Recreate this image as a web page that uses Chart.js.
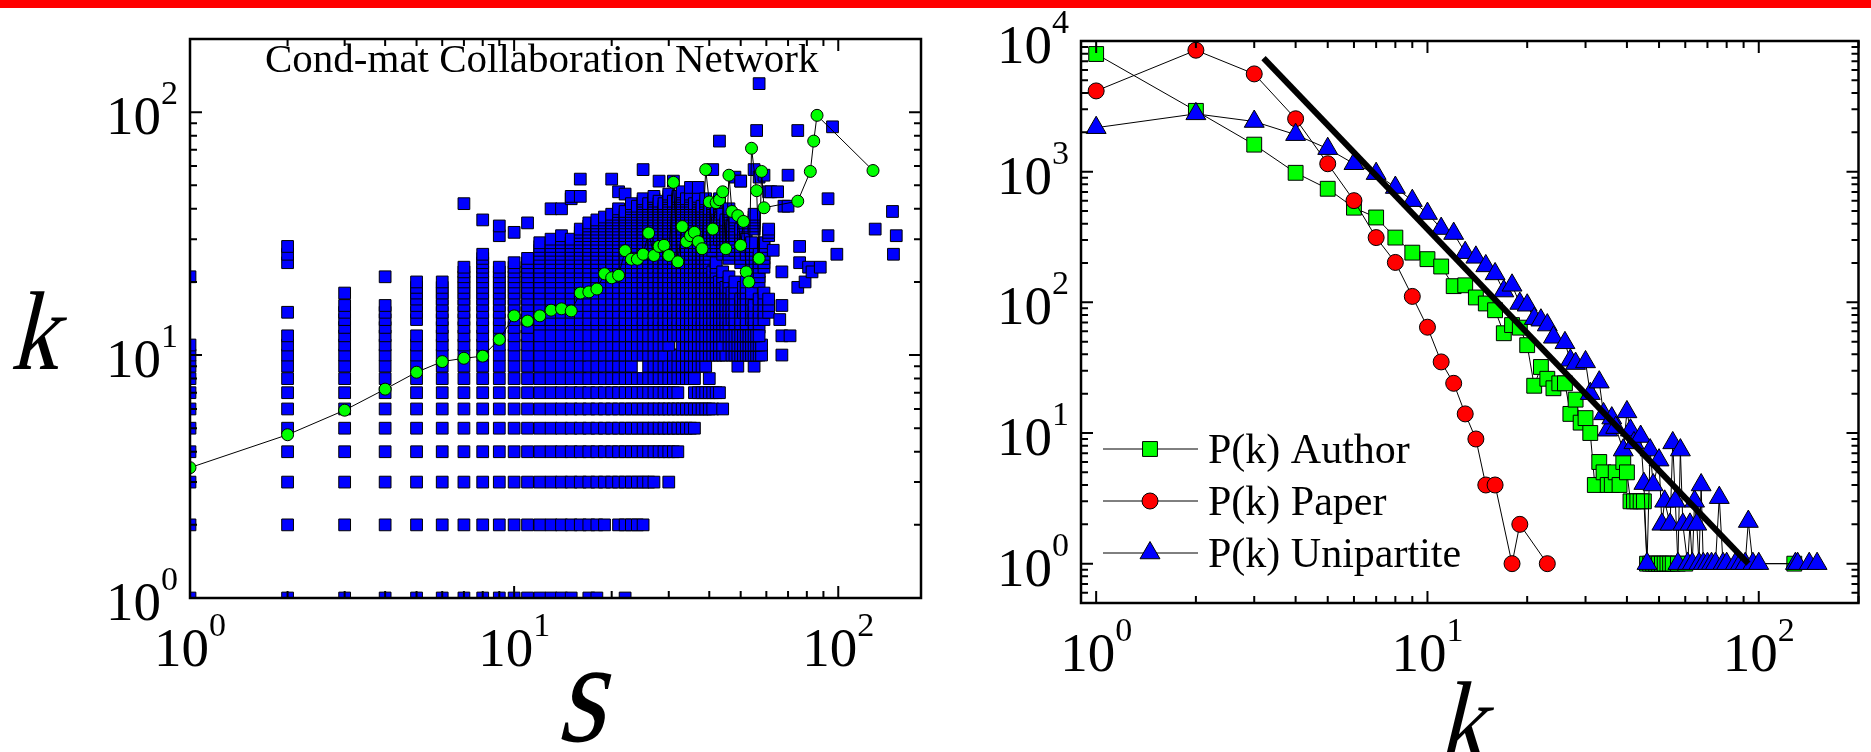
<!DOCTYPE html>
<html>
<head>
<meta charset="utf-8">
<script src="https://cdn.jsdelivr.net/npm/chart.js@4.4.1/dist/chart.umd.min.js"></script>
<style>
  html, body { margin: 0; padding: 0; background: #fff; }
  body { width: 1871px; height: 752px; position: relative; overflow: hidden; font-family: "Liberation Serif", serif; }
  #bar { position: absolute; left: 0; top: 0; width: 1871px; height: 8px; background: #ff0000; z-index: 2; }
  #left { position: absolute; left: 0; top: 0; }
  #right { position: absolute; left: 940px; top: 0; }
</style>
</head>
<body>
<div id="bar"></div>
<canvas id="left" width="940" height="752"></canvas>
<canvas id="right" width="931" height="752"></canvas>
<script>
// ---- left panel: k against s (blue squares) ----
// columns: s value, then runs of k [from, to]
const colS = [1, 2, 3, 4, 5, 6, 7, 8, 9, 10, 11, 12, 13, 14, 15, 16, 17, 18, 19, 20,
  21, 22, 23, 24, 25, 26, 27, 28, 29, 30, 31, 32, 33, 34, 35, 36, 37, 38, 39, 40,
  41, 42, 43, 44, 45, 46, 47, 48, 50, 51, 52, 54, 55, 57, 59, 61];
const colRuns = [
  [[1, 11], [21, 21]],
  [[1, 12], [15, 15], [24, 24], [26, 26], [28, 28]],
  [[1, 16], [18, 18]],
  [[1, 16], [21, 21]],
  [[1, 12], [14, 20]],
  [[1, 20]],
  [[1, 23], [42, 42]],
  [[1, 26], [36, 36]],
  [[1, 23], [31, 31], [34, 34]],
  [[1, 24], [32, 32]],
  [[1, 25], [35, 35]],
  [[13, 29]],
  [[13, 30], [40, 40]],
  [[13, 31], [40, 40]],
  [[13, 30], [44, 45]],
  [[13, 33], [45, 45], [53, 53]],
  [[13, 35]],
  [[13, 36]],
  [[13, 37]],
  [[13, 38], [53, 53]],
  [[13, 40], [47, 47]],
  [[13, 39], [46, 46]],
  [[13, 42]],
  [[13, 41]],
  [[13, 44], [58, 58]],
  [[13, 42]],
  [[13, 45]],
  [[13, 43], [52, 52]],
  [[13, 42]],
  [[13, 46]],
  [[13, 43], [52, 52]],
  [[13, 45]],
  [[13, 47]],
  [[13, 44]],
  [[13, 46], [49, 49]],
  [[13, 42]],
  [[13, 45], [49, 49]],
  [[13, 41]],
  [[13, 44]],
  [[13, 40]],
  [[13, 22], [27, 42], [58, 58]],
  [[13, 24], [28, 40]],
  [[13, 20], [30, 44], [76, 76]],
  [[13, 22], [26, 38]],
  [[13, 19], [29, 36]],
  [[13, 21], [25, 40]],
  [[14, 18], [30, 34]],
  [[13, 20], [27, 37], [54, 54]],
  [[13, 17], [24, 33], [52, 52]],
  [[15, 19], [29, 35]],
  [[13, 20], [26, 30]],
  [[14, 18], [22, 29]],
  [[13, 16], [33, 38], [58, 58]],
  [[13, 17], [20, 26], [54, 54], [131, 131]],
  [[14, 18], [23, 29], [55, 55]],
  [[15, 17], [31, 33], [47, 47]]
];
// rows: k value, then runs of s [from, to] (s >= 12)
const rowK = [1, 2, 3, 4, 5, 6, 7, 8, 9, 10, 11, 12];
const rowRuns = [
  [[12, 15], [17, 18], [22, 22]],
  [[12, 19], [21, 25]],
  [[12, 27], [30, 30]],
  [[12, 32]],
  [[12, 36]],
  [[12, 41], [44, 44]],
  [[12, 32], [36, 43]],
  [[12, 36], [40, 40]],
  [[12, 23], [26, 39], [49, 49], [55, 55]],
  [[12, 29], [31, 45], [47, 58], [67, 67]],
  [[12, 30], [33, 44], [46, 58]],
  [[12, 57], [67, 67], [71, 71]]
];
// scattered squares away from the main cloud
const strayS = [56, 62, 65, 68, 70, 70, 63, 67, 67, 66, 75, 96, 93, 76, 76, 75, 79, 81, 83, 88, 93, 99, 130, 147, 151, 148, 50];
const strayK = [84, 47, 47, 41, 55, 41, 27, 22, 16, 14, 84, 87, 44, 28, 24, 19, 20, 23, 22, 23, 31, 26, 33, 39, 31, 26, 52];

// green circles: mean k for each s
const avgS = [1, 2, 3, 4, 5, 6, 7, 8, 9, 10, 11, 12, 13, 14, 15, 16, 17, 18, 19, 20,
  21, 22, 23, 24, 25, 26, 27, 28, 29, 30, 31, 32, 33, 34, 35, 36, 37, 38, 39, 40,
  41, 42, 43, 44, 45, 46, 47, 49, 50, 51, 52, 53, 54, 56, 57, 58, 59, 75, 82, 84, 86, 128];
const avgK = [3.44, 4.7, 5.93, 7.24, 8.5, 9.4, 9.7, 9.9, 11.6, 14.5, 13.8, 14.5, 15.3, 15.5, 15.2, 18, 18.2, 18.7, 21.6, 20.8,
  21.3, 26.9, 24.8, 24.8, 26, 31.8, 25.7, 28, 28.3, 25.7, 51.4, 24.2, 33.8, 29.3, 31, 32, 29.3, 27.4, 58, 42.7,
  33, 42.4, 43.6, 47, 27.4, 55, 39, 37.5, 28.3, 35.5, 22, 20, 71, 47.5, 25, 57, 40.4, 43, 57, 76, 97, 57.5];

// ---- right panel: P(k) ----
const kAuthor = [1, 2, 3, 4, 5, 6, 7, 8, 9, 10, 11, 12, 13, 14, 15, 16, 17, 18, 19, 20,
  21, 22, 23, 24, 25, 26, 27, 28, 29, 30, 31, 32, 33, 34, 35, 36, 37, 38, 39, 40,
  41, 42, 43, 44, 45, 46, 47, 48, 49, 50, 51, 52, 53, 54, 55, 57, 60, 128];
const pAuthor = [7950, 2920, 1610, 980, 740, 530, 446, 313, 240, 214, 188, 133, 135, 109, 98, 87, 58, 67, 64, 47,
  23, 32, 26, 22, 24, 24, 14, 18, 12, 13, 10, 4, 6, 5, 4, 4, 5, 4, 6, 5,
  3, 3, 3, 3, 3, 1, 1, 1, 1, 1, 1, 1, 1, 1, 1, 1, 1, 1];
const kPaper = [1, 2, 3, 4, 5, 6, 7, 8, 9, 10, 11, 12, 13, 14, 15, 16, 18, 19, 23];
const pPaper = [4150, 8500, 5600, 2540, 1150, 600, 313, 202, 111, 64.5, 35, 24, 14, 9, 4, 4, 1, 2, 1];
const kUni = [1, 2, 3, 4, 5, 6, 7, 8, 9, 10, 11, 12, 13, 14, 15, 16, 17, 18, 19, 20,
  21, 22, 23, 24, 26, 27, 28, 30, 31, 33, 34, 35, 36, 37, 39, 40, 41, 42, 44, 45,
  46, 47, 48, 50, 51, 52, 54, 55, 56, 57, 58, 59, 61, 62, 63, 64, 65, 66, 67, 68,
  70, 72, 74, 76, 78, 80, 85, 88, 91, 93, 96, 100, 129, 131, 142, 150];
const pUni = [2170, 2770, 2420, 1920, 1500, 1150, 966, 756, 600, 478, 367, 336, 240, 221, 190, 165, 122, 135, 98, 95,
  75, 73, 67, 54, 49, 36, 34, 35, 20, 24.5, 14, 10.5, 13, 11, 7.4, 14.5, 10.5, 8.4, 9.4, 4.1,
  1, 7.4, 4, 6.2, 2, 3, 2, 8.4, 3, 1, 7.4, 2, 1, 2, 1, 3, 2, 1, 4, 1,
  1, 1, 1, 3.2, 1, 1, 1, 1, 1, 2.1, 1, 1, 1, 1, 1, 1];
// straight power-law guide line (end points)
const fitK = [3.2, 93];
const fitP = [7400, 1];

// tick labels (powers of ten)
const leftXTicks = [1, 10, 100];
const leftYTicks = [1, 10, 100];
const rightXTicks = [1, 10, 100];
const rightYTicks = [1, 10, 100, 1000, 10000];

const SERIF = '"Liberation Serif", "Times New Roman", serif';

function pairs(xs, ys) {
  return xs.map((x, i) => ({ x: x, y: ys[i] }));
}

function cloudPoints() {
  const pts = [];
  colS.forEach((s, i) => colRuns[i].forEach(([a, b]) => {
    for (let k = a; k <= b; k++) pts.push({ x: s, y: k });
  }));
  rowK.forEach((k, i) => rowRuns[i].forEach(([a, b]) => {
    for (let s = a; s <= b; s++) pts.push({ x: s, y: k });
  }));
  strayS.forEach((s, i) => pts.push({ x: s, y: strayK[i] }));
  return pts;
}

function minorTicks(min, max) {
  const out = [];
  for (let d = Math.floor(Math.log10(min)); d <= Math.ceil(Math.log10(max)); d++) {
    for (let m = 1; m < 10; m++) {
      const v = m * Math.pow(10, d);
      if (v >= min * 0.999 && v <= max * 1.001) out.push({ v: v, major: m === 1 });
    }
  }
  return out;
}

function powLabel(ctx, v, x, y, align) {
  const exp = String(Math.round(Math.log10(v)));
  ctx.font = '55px ' + SERIF;
  const wb = ctx.measureText('10').width;
  ctx.font = '34px ' + SERIF;
  const we = ctx.measureText(exp).width;
  const x0 = align === 'center' ? x - (wb + we) / 2 : x - wb - we;
  ctx.textAlign = 'left';
  ctx.textBaseline = 'alphabetic';
  ctx.font = '55px ' + SERIF;
  ctx.fillText('10', x0, y);
  ctx.font = '34px ' + SERIF;
  ctx.fillText(exp, x0 + wb, y - 30);
}

// inward ticks, frame, tick labels and free text
const framePlugin = {
  id: 'frame',
  afterDatasetsDraw(chart, args, opts) {
    const { ctx, chartArea: a } = chart;
    const x = chart.scales.x, y = chart.scales.y;
    ctx.save();
    ctx.strokeStyle = '#000';
    ctx.fillStyle = '#000';
    ctx.lineWidth = 2;
    ctx.beginPath();
    minorTicks(x.min, x.max).forEach(t => {
      const px = x.getPixelForValue(t.v);
      const len = t.major ? 12 : 7;
      ctx.moveTo(px, a.bottom); ctx.lineTo(px, a.bottom - len);
      ctx.moveTo(px, a.top); ctx.lineTo(px, a.top + len);
    });
    minorTicks(y.min, y.max).forEach(t => {
      const py = y.getPixelForValue(t.v);
      const len = t.major ? 12 : 7;
      ctx.moveTo(a.left, py); ctx.lineTo(a.left + len, py);
      ctx.moveTo(a.right, py); ctx.lineTo(a.right - len, py);
    });
    ctx.stroke();
    ctx.lineWidth = 2.5;
    ctx.strokeRect(a.left, a.top, a.right - a.left, a.bottom - a.top);

    opts.xTicks.forEach(v => powLabel(ctx, v, x.getPixelForValue(v), a.bottom + 68, 'center'));
    opts.yTicks.forEach(v => powLabel(ctx, v, a.left - 12, y.getPixelForValue(v) + 22, 'right'));

    // axis letters: upright serif, slanted and narrowed to look italic
    (opts.texts || []).forEach(t => {
      ctx.save();
      ctx.font = t.font;
      ctx.textAlign = t.align || 'left';
      ctx.textBaseline = 'alphabetic';
      ctx.translate(t.x, t.y);
      if (t.skew) ctx.transform(t.sx || 1, 0, -t.skew, 1, 0, 0);
      ctx.fillText(t.text, 0, 0);
      ctx.restore();
    });
    ctx.restore();
  }
};

// legend drawn inside the plot, from the datasets themselves
const insideLegend = {
  id: 'insideLegend',
  afterDraw(chart, args, opts) {
    const { ctx, chartArea: a } = chart;
    ctx.save();
    let row = 0;
    chart.data.datasets.forEach(ds => {
      if (!ds.label) return;
      const cy = opts.top + row * opts.step;
      ctx.strokeStyle = '#000';
      ctx.lineWidth = 1;
      ctx.beginPath();
      ctx.moveTo(a.left + 22, cy); ctx.lineTo(a.left + 117, cy);
      ctx.stroke();
      ctx.fillStyle = ds.pointBackgroundColor;
      ctx.strokeStyle = '#000';
      Chart.helpers.drawPoint(ctx, {
        pointStyle: ds.pointStyle, radius: ds.pointRadius, rotation: 0, borderWidth: 1
      }, a.left + 69, cy);
      ctx.fillStyle = '#000';
      ctx.font = '42px ' + SERIF;
      ctx.textAlign = 'left';
      ctx.textBaseline = 'alphabetic';
      ctx.fillText(ds.label, a.left + 127, cy + 14);
      row++;
    });
    ctx.restore();
  }
};

const common = {
  responsive: false,
  animation: false,
  devicePixelRatio: 1,
  events: []
};

const leftChart = new Chart(document.getElementById('left'), {
  type: 'scatter',
  data: {
    datasets: [
      {
        data: pairs(avgS, avgK),
        showLine: true,
        borderColor: '#000',
        borderWidth: 1,
        pointStyle: 'circle',
        pointRadius: 6,
        pointBackgroundColor: '#00ff00',
        pointBorderColor: '#000',
        pointBorderWidth: 1,
        order: 1,
        clip: 0
      },
      {
        data: cloudPoints(),
        showLine: false,
        pointStyle: 'rect',
        pointRadius: 8.3,
        pointBackgroundColor: '#0000ff',
        pointBorderColor: '#000',
        pointBorderWidth: 1,
        order: 2,
        clip: 0
      }
    ]
  },
  options: Object.assign({}, common, {
    layout: { padding: { left: 190, right: 19, top: 39, bottom: 154 } },
    scales: {
      x: { type: 'logarithmic', min: 1, max: 180, display: false },
      y: { type: 'logarithmic', min: 1, max: 200, display: false }
    },
    plugins: {
      legend: { display: false },
      tooltip: { enabled: false },
      frame: {
        xTicks: leftXTicks,
        yTicks: leftYTicks,
        texts: [
          { text: 'Cond-mat Collaboration Network', x: 265, y: 72, font: '41px ' + SERIF },
          { text: 'k', x: 10, y: 369, font: '112px ' + SERIF, skew: 0.24, sx: 0.85 },
          { text: 's', x: 580, y: 741, font: '146px ' + SERIF, align: 'center', skew: 0.24, sx: 0.85 }
        ]
      }
    }
  }),
  plugins: [framePlugin]
});

const rightChart = new Chart(document.getElementById('right'), {
  type: 'scatter',
  data: {
    datasets: [
      {
        data: pairs(fitK, fitP),
        showLine: true,
        borderColor: '#000',
        borderWidth: 6,
        pointRadius: 0,
        order: 0,
        clip: 0
      },
      {
        label: 'P(k) Author',
        data: pairs(kAuthor, pAuthor),
        showLine: true,
        borderColor: '#000',
        borderWidth: 1,
        pointStyle: 'rect',
        pointRadius: 10.5,
        pointBackgroundColor: '#00ff00',
        pointBorderColor: '#000',
        pointBorderWidth: 1,
        order: 3,
        clip: 0
      },
      {
        label: 'P(k) Paper',
        data: pairs(kPaper, pPaper),
        showLine: true,
        borderColor: '#000',
        borderWidth: 1,
        pointStyle: 'circle',
        pointRadius: 8,
        pointBackgroundColor: '#ff0000',
        pointBorderColor: '#000',
        pointBorderWidth: 1,
        order: 2,
        clip: 0
      },
      {
        label: 'P(k) Unipartite',
        data: pairs(kUni, pUni),
        showLine: true,
        borderColor: '#000',
        borderWidth: 1,
        pointStyle: 'triangle',
        pointRadius: 11.5,
        pointBackgroundColor: '#0000ff',
        pointBorderColor: '#000',
        pointBorderWidth: 1,
        order: 1,
        clip: 0
      }
    ]
  },
  options: Object.assign({}, common, {
    layout: { padding: { left: 141, right: 7, top: 41, bottom: 149 } },
    scales: {
      x: { type: 'logarithmic', min: 0.9, max: 200, display: false },
      y: { type: 'logarithmic', min: 0.5, max: 10000, display: false }
    },
    plugins: {
      legend: { display: false },
      tooltip: { enabled: false },
      frame: {
        xTicks: rightXTicks,
        yTicks: rightYTicks,
        texts: [
          { text: 'k', x: 497, y: 759, font: '112px ' + SERIF, skew: 0.24, sx: 0.85 }
        ]
      },
      insideLegend: { top: 449, step: 52 }
    }
  }),
  plugins: [framePlugin, insideLegend]
});

// redraw once the serif face is ready
document.fonts.load('55px "Liberation Serif"').then(() => {
  leftChart.draw();
  rightChart.draw();
});
</script>
</body>
</html>
